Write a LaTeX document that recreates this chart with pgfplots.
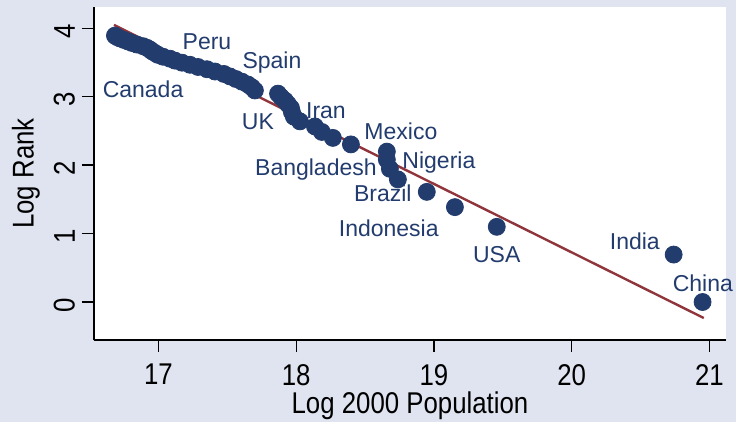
\documentclass[border=0pt]{standalone}
\usepackage{fontspec}
\setmainfont{Liberation Sans}
\newfontfamily\axisfont[FakeStretch=0.86]{Liberation Sans}
\usepackage{pgfplots}
\pgfplotsset{compat=1.18}
\definecolor{bgcol}{RGB}{224,228,240}
\definecolor{navyc}{RGB}{35,60,110}
\definecolor{maroonc}{RGB}{144,53,59}

\begin{document}
\begin{tikzpicture}
% page background (graph region)
\fill[bgcol] (-47pt,-41pt) rectangle (321pt,170pt);
\begin{axis}[
  scale only axis,
  width=316pt, height=166.5pt,
  xmin=16.532, xmax=21.12, ymin=-0.555, ymax=4.31,
  axis x line*=bottom, axis y line*=left,
  axis line style={black, line width=0.7pt, -},
  axis background/.style={fill=white},
  tick align=outside, major tick length=6pt,
  tick style={black, line width=0.7pt},
  xtick={17,18,19,20,21}, ytick={0,1,2,3,4},
  ticklabel style={font=\axisfont\fontsize{15}{17}\selectfont},
  /pgf/number format/assume math mode=true,
  xticklabel style={yshift=-2.5pt},
  yticklabel style={rotate=90, anchor=south, xshift=-1.5pt},
  xlabel={Log 2000 Population}, ylabel={Log Rank},
  label style={font=\axisfont\fontsize{15}{17}\selectfont},
  xlabel style={yshift=3.5pt},
  clip=false,
]
% log rank against log population
\addplot[only marks, mark=*, mark size=4.25pt, mark options={draw=navyc, fill=navyc}] table {
x y
20.950 0
20.740 0.6931
19.456 1.0986
19.152 1.3863
18.948 1.6094
18.738 1.7918
18.680 1.9459
18.658 2.0794
18.658 2.1972
18.397 2.3026
18.266 2.3979
18.186 2.4849
18.136 2.5649
18.027 2.6391
17.983 2.7081
17.969 2.7726
17.962 2.8332
17.940 2.8904
17.918 2.9444
17.889 2.9957
17.868 3.0445
17.700 3.0910
17.679 3.1355
17.649 3.1781
17.606 3.2189
17.562 3.2581
17.519 3.2958
17.475 3.3322
17.410 3.3673
17.352 3.4012
17.287 3.4340
17.229 3.4657
17.171 3.4965
17.120 3.5264
17.083 3.5553
17.033 3.5835
16.996 3.6109
16.975 3.6376
16.953 3.6636
16.938 3.6889
16.917 3.7136
16.888 3.7377
16.844 3.7612
16.808 3.7842
16.779 3.8067
16.750 3.8286
16.721 3.8501
16.699 3.8712
16.684 3.8918
};
% fitted line
\addplot[maroonc, line width=1.2pt] coordinates {(16.677,4.048) (20.959,-0.234)};
% country labels
\addplot[only marks, mark=none, nodes near coords, point meta=explicit symbolic,
  nodes near coords style={anchor=center, inner sep=0pt, text=navyc, font=\fontsize{11.5}{13}\selectfont}]
  table[meta=lab] {
x y lab
17.352 3.80 Peru
17.824 3.50 Spain
16.888 3.11 Canada
17.722 2.63 UK
18.216 2.79 Iran
18.760 2.50 Mexico
18.143 1.93 Bangladesh
19.036 2.04 Nigeria
18.629 1.59 Brazil
18.672 1.08 Indonesia
19.456 0.70 USA
20.458 0.89 India
20.952 0.28 China
};
\end{axis}
\end{tikzpicture}
\end{document}
